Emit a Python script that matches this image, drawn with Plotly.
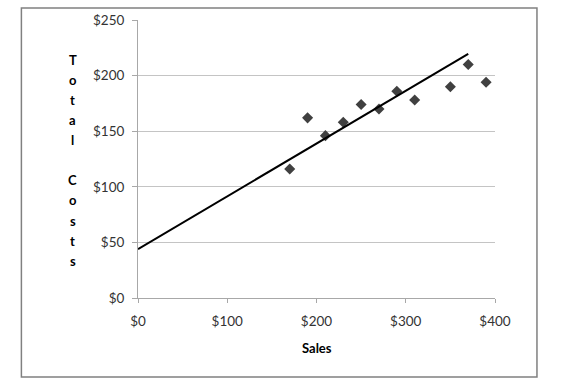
import plotly.graph_objects as go

# ---- data ----
sales = [170, 190, 210, 230, 250, 270, 290, 310, 350, 370, 390]
total_costs = [116, 162, 146, 158, 174, 170, 186, 178, 190, 210, 194]
trend_x = [0, 370]
trend_y = [44, 219.5]
x_tickvals = [0, 100, 200, 300, 400]
x_ticktext = ["$0", "$100", "$200", "$300", "$400"]
y_tickvals = [0, 50, 100, 150, 200, 250]
y_ticktext = ["$0", "$50", "$100", "$150", "$200", "$250"]
x_title = "Sales"
y_title = "Total Costs"

# ---- layout geometry (pixels) ----
W, H = 571, 391
L, R = 137.7, 495.0      # plot area left/right
T, B = 18.0, 298.3       # plot area top/bottom
pw, ph = R - L, B - T

def px_x(x):
    return (x - L) / pw

def px_y(y):
    return (B - y) / ph

FONT = "Lato, 'Open Sans', sans-serif"
TICKSIZE = 13.5

fig = go.Figure()
fig.add_trace(go.Scatter(
    x=sales, y=total_costs, mode="markers",
    marker=dict(symbol="diamond", size=8.5, color="#404040", line=dict(width=0)),
    showlegend=False, hoverinfo="x+y"))
fig.add_trace(go.Scatter(
    x=trend_x, y=trend_y, mode="lines",
    line=dict(color="#000000", width=2),
    showlegend=False, hoverinfo="skip"))

annotations = [dict(
    text="<b>%s</b>" % x_title, xref="paper", yref="paper",
    x=px_x((L + R) / 2), y=px_y(348.3), xanchor="center", yanchor="middle",
    showarrow=False, font=dict(family=FONT, size=13, color="#000000"))]

# vertical stacked y-axis title, one letter per line
for i, ch in enumerate(y_title):
    if ch == " ":
        continue
    annotations.append(dict(
        text="<b>%s</b>" % ch, xref="paper", yref="paper",
        x=px_x(72.5), y=px_y(58 + i * 20.27), xanchor="center", yanchor="middle",
        showarrow=False, font=dict(family=FONT, size=13, color="#000000")))

fig.update_layout(
    width=W, height=H,
    margin=dict(l=L, r=W - R, t=T, b=H - B, pad=0),
    paper_bgcolor="white", plot_bgcolor="white",
    font=dict(family=FONT, size=TICKSIZE, color="#333333"),
    xaxis=dict(range=[0, 400], tickvals=x_tickvals, ticktext=x_ticktext,
               showgrid=False, zeroline=False, showline=True, linecolor="#a8a8a8",
               linewidth=1, ticks="outside", ticklen=4, tickcolor="#a8a8a8",
               ticklabelstandoff=7,
               tickfont=dict(family=FONT, size=TICKSIZE, color="#333333"), fixedrange=True),
    yaxis=dict(range=[0, 250], tickvals=y_tickvals, ticktext=y_ticktext,
               showgrid=True, gridcolor="#c4c4c4", gridwidth=1, zeroline=False,
               showline=True, linecolor="#a8a8a8", linewidth=1,
               ticks="outside", ticklen=5, tickcolor="#a8a8a8",
               ticklabelstandoff=5,
               tickfont=dict(family=FONT, size=TICKSIZE, color="#333333"), fixedrange=True),
    annotations=annotations,
    shapes=[dict(type="rect", xref="paper", yref="paper",
                 x0=px_x(21), x1=px_x(537), y0=px_y(378), y1=px_y(6),
                 line=dict(color="#808080", width=1.5), fillcolor="rgba(0,0,0,0)",
                 layer="below")],
)

fig.write_html("out.html")
